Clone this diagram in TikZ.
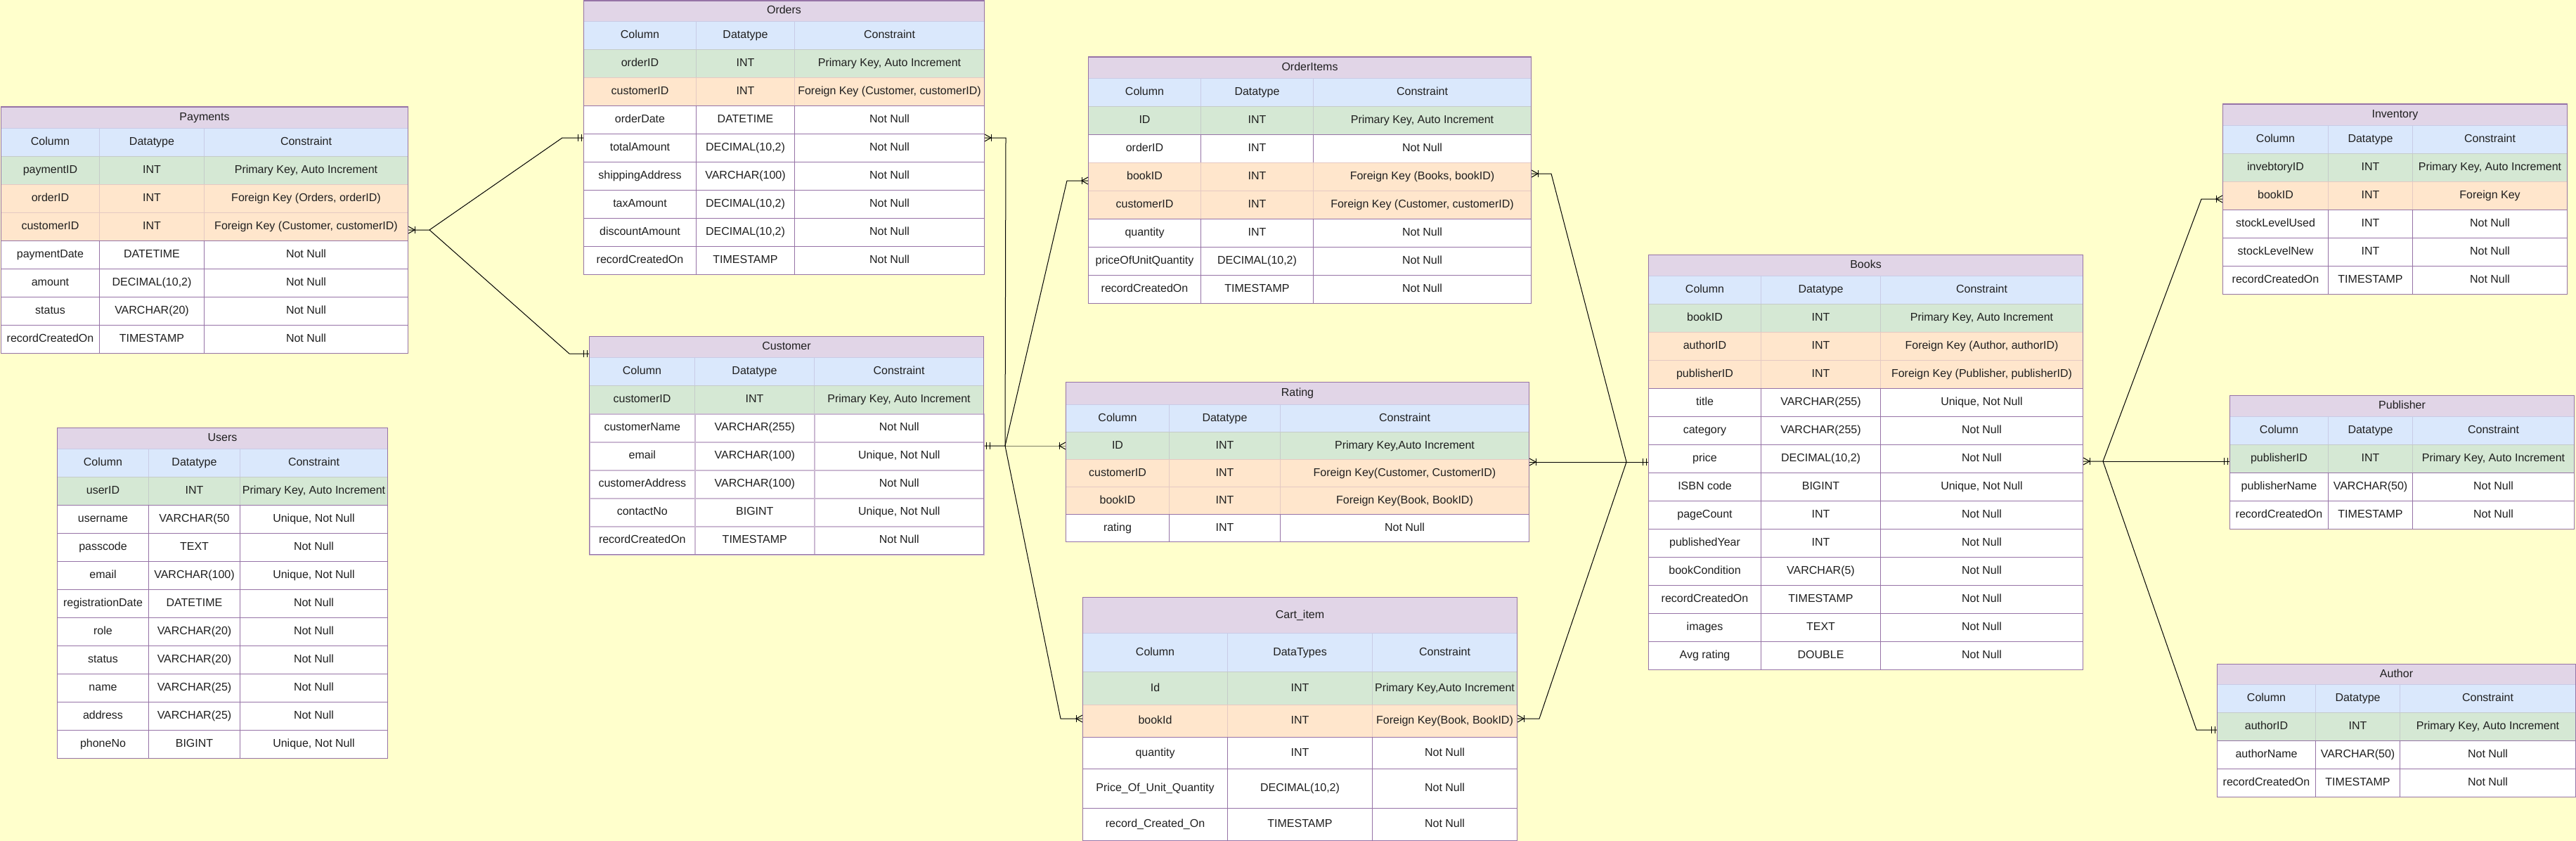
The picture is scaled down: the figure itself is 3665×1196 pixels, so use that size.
\documentclass[tikz,border=0pt]{standalone}
\usepackage{fontspec}
\setmainfont{Liberation Sans}
\usetikzlibrary{positioning}
\definecolor{erbg}{HTML}{FFFFCC}
\definecolor{ertitle}{HTML}{E1D5E7}
\definecolor{erline}{HTML}{9673A6}
\definecolor{erhead}{HTML}{DAE8FC}
\definecolor{erpk}{HTML}{D5E8D4}
\definecolor{erfk}{HTML}{FFE6CC}
\tikzset{
  erfield/.style={draw=erline, fill=white, line width=1pt, inner sep=0pt, anchor=north west,
    text height=11.5pt, text depth=3.5pt, font=\fontsize{16}{19}\selectfont, text=black!88},
  titlerow/.style={erfield, fill=ertitle},
  headrow/.style={erfield, fill=erhead, draw=erline!25!erhead},
  pkrow/.style={erfield, fill=erpk, draw=erline!25!erpk},
  fkrow/.style={erfield, fill=erfk, draw=erline!25!erfk},
  plainrow/.style={erfield},
  softrow/.style={erfield, draw=erline!50!white, line width=1.6pt},
  erlink/.style={line width=1pt, black},
}
% #1 name, #2 x, #3 y, #4-#6 column widths, #7 title, #8 title height, #9 rows
\newcommand{\ertable}[9]{%
  \node[titlerow, minimum width={(#4+#5+#6)*1pt}, minimum height={#8*1pt}] (#1) at (#2,#3) {#7};
  \pgfmathsetmacro\rowy{#3+#8}\xdef\rowy{\rowy}%
  \foreach \kind/\h/\ca/\cb/\cc [count=\i] in {#9} {%
    \node[\kind, minimum width={#4*1pt}, minimum height={\h*1pt}] (#1-\i-1) at (#2,\rowy) {\ca};
    \node[\kind, minimum width={#5*1pt}, minimum height={\h*1pt}] (#1-\i-2) at (#2+#4,\rowy) {\cb};
    \node[\kind, minimum width={#6*1pt}, minimum height={\h*1pt}] (#1-\i-3) at (#2+#4+#5,\rowy) {\cc};
    \pgfmathsetmacro\rowy{\rowy+\h}\xdef\rowy{\rowy}%
  }
  \draw[erline, line width=1pt] (#1.north west) rectangle (#2+#4+#5+#6,\rowy);
}
% crow's foot with a bar; #2 = 1 when the table is on the left
\newcommand{\ermany}[2]{%
  \draw[erlink] #1 ++(0,-5) -- ++(#2*9,5) -- ++(#2*-9,5);
  \draw[erlink] #1 ++(#2*9,-5) -- ++(0,10);
}
\newcommand{\erone}[2]{%
  \draw[erlink] #1 ++(#2*3,-5) -- ++(0,10);
  \draw[erlink] #1 ++(#2*8,-5) -- ++(0,10);
}

\begin{document}
\begin{tikzpicture}[x=1pt, y=-1pt]
  \useasboundingbox (0,0) rectangle (3665,1196);
  \fill[erbg] (0,0) rectangle (3665,1196);

  \ertable{payments}{1}{152}{140}{149}{290}{Payments}{30}{headrow/40/Column/Datatype/Constraint,
    pkrow/40/paymentID/INT/{Primary Key, Auto Increment},
    fkrow/40/orderID/INT/{Foreign Key (Orders, orderID)},
    fkrow/40/customerID/INT/{Foreign Key (Customer,  customerID)},
    plainrow/40/paymentDate/DATETIME/Not Null,
    plainrow/40/amount/{DECIMAL(10,2)}/Not Null,
    plainrow/40/status/VARCHAR(20)/Not Null,
    plainrow/40/recordCreatedOn/TIMESTAMP/Not Null}

  \ertable{orders}{830}{1}{160}{140}{270}{Orders}{29}{headrow/40/Column/Datatype/Constraint,
    pkrow/40/orderID/INT/{Primary Key, Auto Increment},
    fkrow/40/customerID/INT/{Foreign Key (Customer, customerID)},
    plainrow/40/orderDate/DATETIME/Not Null,
    plainrow/40/totalAmount/{DECIMAL(10,2)}/Not Null,
    plainrow/40/shippingAddress/VARCHAR(100)/Not Null,
    plainrow/40/taxAmount/{DECIMAL(10,2)}/Not Null,
    plainrow/40/discountAmount/{DECIMAL(10,2)}/Not Null,
    plainrow/40/recordCreatedOn/TIMESTAMP/Not Null}

  \ertable{customer}{838}{478}{150}{170}{241}{Customer}{30}{headrow/40/Column/Datatype/Constraint,
    pkrow/40/customerID/INT/{Primary Key, Auto Increment},
    softrow/40/customerName/VARCHAR(255)/Not Null,
    softrow/40/email/VARCHAR(100)/{Unique, Not Null},
    softrow/40/customerAddress/VARCHAR(100)/Not Null,
    softrow/40/contactNo/BIGINT/{Unique, Not Null},
    softrow/40/recordCreatedOn/TIMESTAMP/Not Null}

  \ertable{users}{81}{608}{130}{130}{210}{Users}{30}{headrow/40/Column/Datatype/Constraint,
    pkrow/40/userID/INT/{Primary Key, Auto Increment},
    plainrow/40/username/VARCHAR(50/{Unique, Not Null},
    plainrow/40/passcode/TEXT/Not Null,
    plainrow/40/email/VARCHAR(100)/{Unique, Not Null},
    plainrow/40/registrationDate/DATETIME/Not Null,
    plainrow/40/role/VARCHAR(20)/Not Null,
    plainrow/40/status/VARCHAR(20)/Not Null,
    plainrow/40/name/VARCHAR(25)/Not Null,
    plainrow/40/address/VARCHAR(25)/Not Null,
    plainrow/40/phoneNo/BIGINT/{Unique, Not Null}}

  \ertable{orderitems}{1548}{81}{160}{160}{310}{OrderItems}{30}{headrow/40/Column/Datatype/Constraint,
    pkrow/40/ID/INT/{Primary Key, Auto Increment},
    plainrow/40/orderID/INT/Not Null,
    fkrow/40/bookID/INT/{Foreign Key (Books,  bookID)},
    fkrow/40/customerID/INT/{Foreign Key (Customer, customerID)},
    plainrow/40/quantity/INT/Not Null,
    plainrow/40/priceOfUnitQuantity/{DECIMAL(10,2)}/Not Null,
    plainrow/40/recordCreatedOn/TIMESTAMP/Not Null}

  \ertable{rating}{1516}{543}{147}{158}{354}{Rating}{32}{headrow/39/Column/Datatype/Constraint,
    pkrow/39/ID/INT/{Primary Key,Auto Increment},
    fkrow/39/customerID/INT/{Foreign Key(Customer, CustomerID)},
    fkrow/39/bookID/INT/{Foreign Key(Book, BookID)},
    plainrow/39/rating/INT/Not Null}

  \ertable{cart}{1540}{849}{206}{206}{206}{Cart\_item}{51}{headrow/55/Column/DataTypes/Constraint,
    pkrow/47/Id/INT/{Primary Key,Auto Increment},
    fkrow/46/bookId/INT/{Foreign Key(Book, BookID)},
    plainrow/45/quantity/INT/Not Null,
    plainrow/56/Price\_Of\_Unit\_Quantity/{DECIMAL(10,2)}/Not Null,
    plainrow/46/record\_Created\_On/TIMESTAMP/Not Null}

  \ertable{books}{2345}{362}{160}{170}{288}{Books}{30}{headrow/40/Column/Datatype/Constraint,
    pkrow/40/bookID/INT/{Primary Key, Auto Increment},
    fkrow/40/authorID/INT/{Foreign Key (Author, authorID)},
    fkrow/40/publisherID/INT/{Foreign Key (Publisher, publisherID)},
    plainrow/40/title/VARCHAR(255)/{Unique, Not Null},
    plainrow/40/category/VARCHAR(255)/Not Null,
    plainrow/40/price/{DECIMAL(10,2)}/Not Null,
    plainrow/40/ISBN code/BIGINT/{Unique, Not Null},
    plainrow/40/pageCount/INT/Not Null,
    plainrow/40/publishedYear/INT/Not Null,
    plainrow/40/bookCondition/VARCHAR(5)/Not Null,
    plainrow/40/recordCreatedOn/TIMESTAMP/Not Null,
    plainrow/40/images/TEXT/Not Null,
    plainrow/40/Avg rating/DOUBLE/Not Null}

  \ertable{inventory}{3162}{148}{150}{120}{220}{Inventory}{30}{headrow/40/Column/Datatype/Constraint,
    pkrow/40/invebtoryID/INT/{Primary Key, Auto Increment},
    fkrow/40/bookID/INT/Foreign Key,
    plainrow/40/stockLevelUsed/INT/Not Null,
    plainrow/40/stockLevelNew/INT/Not Null,
    plainrow/40/recordCreatedOn/TIMESTAMP/Not Null}

  \ertable{publisher}{3172}{562}{140}{120}{230}{Publisher}{30}{headrow/40/Column/Datatype/Constraint,
    pkrow/40/publisherID/INT/{Primary Key, Auto Increment},
    plainrow/40/publisherName/VARCHAR(50)/Not Null,
    plainrow/40/recordCreatedOn/TIMESTAMP/Not Null}

  \ertable{author}{3154}{944}{140}{120}{250}{Author}{29}{headrow/40/Column/Datatype/Constraint,
    pkrow/40/authorID/INT/{Primary Key, Auto Increment},
    plainrow/40/authorName/VARCHAR(50)/Not Null,
    plainrow/40/recordCreatedOn/TIMESTAMP/Not Null}

  \coordinate (payJ) at (611,327);
  \coordinate (cusJ) at (1430,634);
  \coordinate (bookJL) at (2314,657);
  \coordinate (bookJR) at (2992,656);

  \coordinate (payR) at (payments-4-3.east |- payJ);
  \coordinate (ordL) at (orders-5-1.west |- 0,196);
  \coordinate (ordR) at (orders-5-3.east |- 0,196);
  \coordinate (cusL) at (customer.west |- 0,503);
  \coordinate (cusR) at (customer-4-3.east |- cusJ);
  \coordinate (oitL) at (orderitems-4-1.west |- 0,257);
  \coordinate (oitR) at (orderitems-4-3.east |- 0,247);
  \coordinate (ratL) at (rating-2-1.west |- cusJ);
  \coordinate (ratR) at (rating-3-3.east |- bookJL);
  \coordinate (cartL) at (cart-3-1.west |- 0,1022);
  \coordinate (cartR) at (cart-3-3.east |- 0,1022);
  \coordinate (bookL) at (books-7-1.west |- bookJL);
  \coordinate (bookR) at (books-7-3.east |- bookJR);
  \coordinate (invL) at (inventory-3-1.west |- 0,283);
  \coordinate (pubL) at (publisher-2-1.west |- bookJR);
  \coordinate (autL) at (author-2-1.west |- 0,1038);

  \draw[erlink] (payR) -- (payJ) -- ([xshift=-30pt]ordL) -- (ordL);
  \draw[erlink] (payJ) -- ([xshift=-28pt]cusL) -- (cusL);
  \draw[erlink, black!50!erbg] (cusJ) -- (ratL);
  \draw[erlink] (ordR) -- ([xshift=30pt]ordR) -- (cusJ) -- (cusR);
  \draw[erlink] (cusJ) -- ([xshift=-30pt]oitL) -- (oitL);
  \draw[erlink] (cusJ) -- ([xshift=-31pt]cartL) -- (cartL);
  \draw[erlink] (bookL) -- (bookJL);
  \draw[erlink] (bookJL) -- ([xshift=28pt]oitR) -- (oitR);
  \draw[erlink] (bookJL) -- (ratR);
  \draw[erlink] (bookJL) -- ([xshift=31pt]cartR) -- (cartR);
  \draw[erlink] (bookR) -- (bookJR) -- ([xshift=-30pt]invL) -- (invL);
  \draw[erlink] (bookJR) -- (pubL);
  \draw[erlink] (bookJR) -- ([xshift=-29pt]autL) -- (autL);

  \ermany{(payR)}{1}
  \erone{(ordL)}{-1}
  \erone{(cusL)}{-1}
  \ermany{(ordR)}{1}
  \erone{(cusR)}{1}
  \ermany{(oitL)}{-1}
  \ermany{(ratL)}{-1}
  \ermany{(cartL)}{-1}
  \erone{(bookL)}{-1}
  \ermany{(oitR)}{1}
  \ermany{(ratR)}{1}
  \ermany{(cartR)}{1}
  \ermany{(bookR)}{1}
  \ermany{(invL)}{-1}
  \erone{(pubL)}{-1}
  \erone{(autL)}{-1}
\end{tikzpicture}
\end{document}
